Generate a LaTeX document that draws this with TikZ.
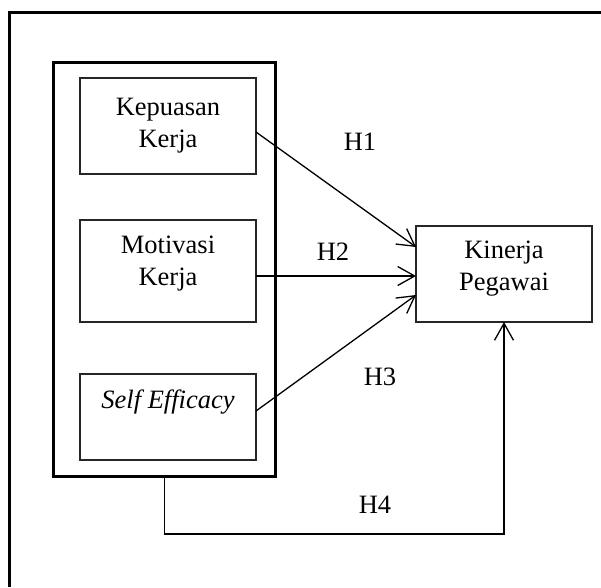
\documentclass[tikz,border=0pt]{standalone}
\usepackage{fontspec}
\setmainfont{Liberation Serif}
\usetikzlibrary{arrows.meta}
\begin{document}
\begin{tikzpicture}[x=1pt,y=-1pt,
  box/.style={draw=black!85,line width=1.3pt,minimum width=176pt,inner sep=0pt,outer sep=0pt},
  frame/.style={draw=black,line width=3pt},
  txt/.style={font=\fontsize{26.5}{32}\selectfont,align=center,inner sep=0pt},
  arr/.style={draw=black,line width=1.3pt,-{Straight Barb[length=17pt,width=19pt,line width=1.3pt]}}]
\useasboundingbox (0,0) rectangle (601,587);
\fill[white] (0,0) rectangle (601,587);
% outer frame (only left and top edges fall inside the picture)
\coordinate (fa) at (9.5,587);
\coordinate (fb) at (9.5,12);
\coordinate (fc) at (601,12);
\draw[frame,line cap=butt] (fa) -- (fb) -- (fc);
% group box
\node[frame,minimum width=221.5pt,minimum height=414pt,inner sep=0pt,outer sep=0pt] (grp) at (164.25,269) {};
% variable boxes
\node[box,minimum height=96pt] (kep) at (168,126) {};
\node[box,minimum height=102pt] (mot) at (168,271) {};
\node[box,minimum height=86pt] (slf) at (168,417) {};
\node[box,minimum height=96pt] (kin) at (504,274) {};
% texts
\node[txt] (kept) at (168,126) {Kepuasan\\Kerja};
\node[txt] (mott) at (168,263.5) {Motivasi\\Kerja};
\node[txt] (slft) at (168,402) {\itshape Self Efficacy};
\node[txt] (kint) at (504,269) {Kinerja\\Pegawai};
% connectors
\coordinate (h2s) at ([yshift=-5pt]mot.east);
\draw[arr] ([yshift=-6pt]kep.east) -- ([yshift=27pt]kin.west);
\draw[arr] (h2s) -- (kin.west |- h2s);
\draw[arr] ([yshift=6pt]slf.east) -- ([yshift=-21pt]kin.west);
\draw[arr] (grp.south) -- ++(0,58) -| (kin.south);
% labels
\node[txt] (h1) at (360,142) {H1};
\node[txt] (h2) at (333,252) {H2};
\node[txt] (h3) at (380,377) {H3};
\node[txt] (h4) at (375,505) {H4};
\end{tikzpicture}
\end{document}
